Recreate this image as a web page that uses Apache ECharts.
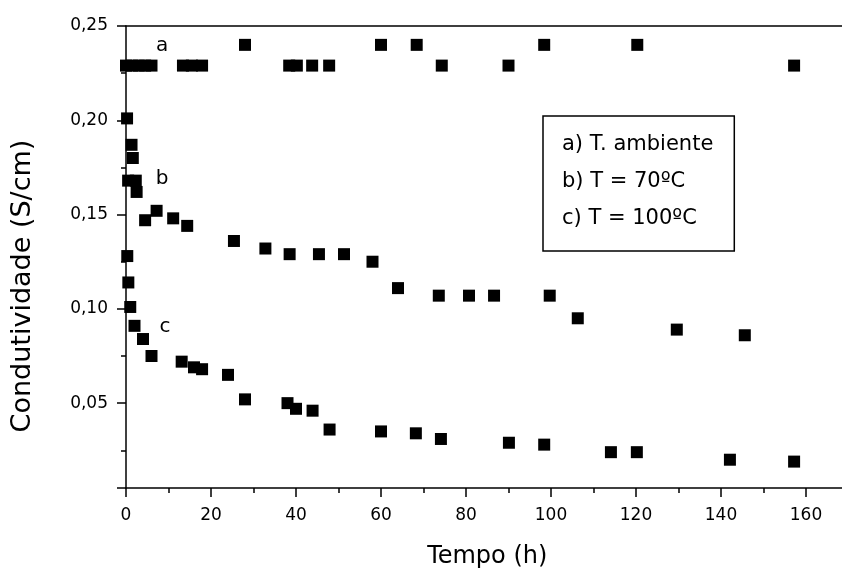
<!DOCTYPE html>
<html>
<head>
<meta charset="utf-8">
<script src="https://cdn.jsdelivr.net/npm/echarts@6/dist/echarts.min.js"></script>
<style>
  html, body { margin: 0; padding: 0; background: #fff; }
  #chartEl { width: 842px; height: 569px; }
</style>
</head>
<body>
<div id="chartEl"></div>
<script>
// a) temperatura ambiente
const tempoA = [0, 1.5, 3, 4.5, 6, 13.4, 15.5, 17.9, 28, 38.4, 40.2, 43.8, 47.8, 60, 68.4, 74.3, 90, 98.4, 120.3, 157.2];
const condA = [0.229, 0.229, 0.229, 0.229, 0.229, 0.229, 0.229, 0.229, 0.240, 0.229, 0.229, 0.229, 0.229, 0.240, 0.240, 0.229, 0.229, 0.240, 0.240, 0.229];
// b) T = 70ºC
const tempoB = [0.25, 1.3, 1.6, 0.5, 2.3, 2.5, 4.5, 7.2, 11.1, 14.4, 25.4, 32.8, 38.5, 45.4, 51.3, 58, 64, 73.6, 80.7, 86.6, 99.7, 106.3, 129.6, 145.6];
const condB = [0.201, 0.187, 0.180, 0.168, 0.168, 0.162, 0.147, 0.152, 0.148, 0.144, 0.136, 0.132, 0.129, 0.129, 0.129, 0.125, 0.111, 0.107, 0.107, 0.107, 0.107, 0.095, 0.089, 0.086];
// c) T = 100ºC
const tempoC = [0.3, 0.55, 1, 2, 4, 6, 13.1, 16, 17.9, 24, 28, 38, 40, 43.9, 47.9, 60, 68.2, 74.1, 90.1, 98.4, 114.1, 120.2, 142.1, 157.2];
const condC = [0.128, 0.114, 0.101, 0.091, 0.084, 0.075, 0.072, 0.069, 0.068, 0.065, 0.052, 0.050, 0.047, 0.046, 0.036, 0.035, 0.034, 0.031, 0.029, 0.028, 0.024, 0.024, 0.020, 0.019];

const seriesNames = ["a) T. ambiente", "b) T = 70ºC", "c) T = 100ºC"];
const curveLetters = ["a", "b", "c"];
const letterPos = [[8.5, 0.2395], [8.5, 0.169], [9.2, 0.0905]];

const fontName = "DejaVu Sans";
const pairs = (xs, ys) => xs.map((x, i) => [x, ys[i]]);
const allData = [pairs(tempoA, condA), pairs(tempoB, condB), pairs(tempoC, condC)];

const myChart = echarts.init(document.getElementById("chartEl"));

const option = {
  animation: false,
  backgroundColor: "#fff",
  textStyle: { fontFamily: fontName, color: "#000" },
  grid: { left: 126, top: 26, right: -6.5, bottom: 81, containLabel: false, outerBoundsMode: "none" },
  legend: {
    data: seriesNames,
    orient: "vertical",
    left: 543,
    top: 116,
    padding: [18, 21, 22, 14],
    itemGap: 16,
    itemWidth: 0,
    itemHeight: 21,
    borderColor: "#000",
    borderWidth: 1.5,
    borderRadius: 0,
    selectedMode: false,
    textStyle: { fontFamily: fontName, fontSize: 21, color: "#000" },
  },
  xAxis: [
    {
      type: "value",
      min: 0,
      max: 170,
      interval: 20,
      name: "Tempo (h)",
      nameLocation: "middle",
      nameGap: 57,
      nameTextStyle: { fontFamily: fontName, fontSize: 24, color: "#000" },
      axisLine: { lineStyle: { color: "#000", width: 1.5 } },
      axisTick: { length: 9, lineStyle: { color: "#000", width: 1.5 } },
      minorTick: { show: true, splitNumber: 2, length: 5, lineStyle: { color: "#000", width: 1.5 } },
      axisLabel: { margin: 19, fontSize: 17, color: "#000", showMaxLabel: false },
      splitLine: { show: false },
    },
    {
      type: "value",
      position: "top",
      min: 0,
      max: 170,
      axisLine: { show: true, lineStyle: { color: "#000", width: 1.5 } },
      axisTick: { show: false },
      axisLabel: { show: false },
      splitLine: { show: false },
    },
  ],
  yAxis: {
    type: "value",
    min: 0.005,
    max: 0.25,
    splitNumber: 5,
    name: "Condutividade (S/cm)",
    nameLocation: "middle",
    nameGap: 90,
    nameTextStyle: { fontFamily: fontName, fontSize: 27, color: "#000", padding: [0, 58, 0, 0] },
    axisLine: { show: true, lineStyle: { color: "#000", width: 1.5 } },
    axisTick: { length: 9, lineStyle: { color: "#000", width: 1.5 } },
    minorTick: { show: true, splitNumber: 2, length: 5, lineStyle: { color: "#000", width: 1.5 } },
    axisLabel: {
      margin: 18,
      fontSize: 17,
      color: "#000",
      formatter: function (v) {
        if (Math.abs(Math.round(v / 0.05) * 0.05 - v) > 1e-6) return "";
        return v.toFixed(2).replace(".", ",");
      },
    },
    splitLine: { show: false },
  },
  series: seriesNames.map((name, i) => ({
    name: name,
    type: "scatter",
    symbol: "rect",
    symbolSize: 12,
    itemStyle: { color: "#000", opacity: 1 },
    data: allData[i],
    markPoint: {
      symbol: "circle",
      symbolSize: 1,
      itemStyle: { color: "rgba(0,0,0,0)" },
      label: {
        show: true,
        position: "inside",
        formatter: curveLetters[i],
        fontFamily: fontName,
        fontSize: 20,
        color: "#000",
      },
      data: [{ coord: letterPos[i] }],
    },
  })),
};

myChart.setOption(option);
</script>
</body>
</html>
